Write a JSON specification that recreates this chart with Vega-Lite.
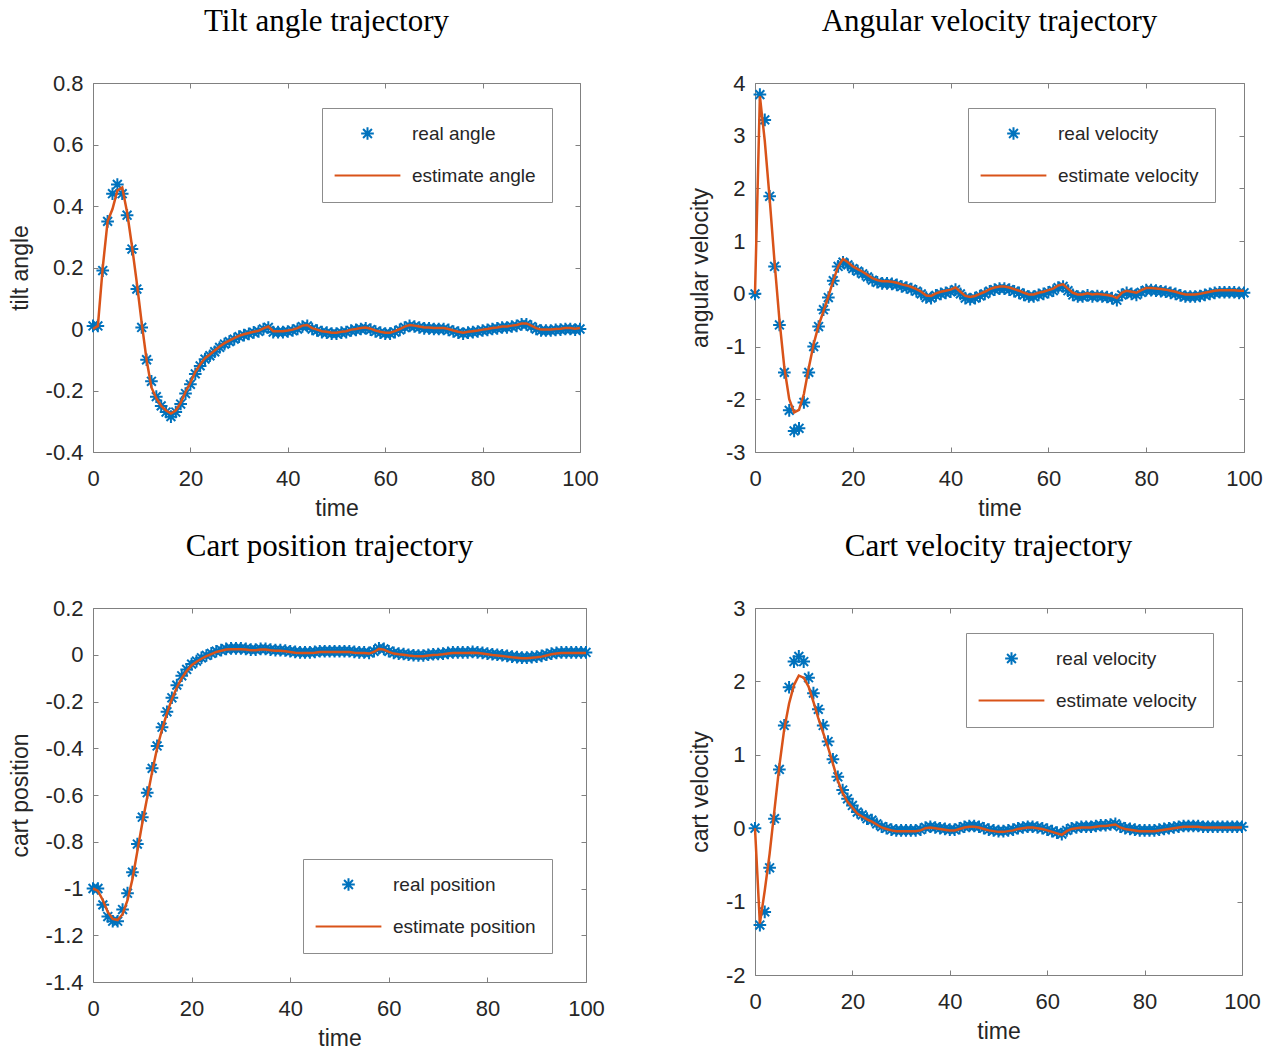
{
"$schema":"https://vega.github.io/schema/vega-lite/v6.json",
"padding":{"left":8,"top":5,"right":0,"bottom":0},
"datasets":{
"tilt":[
{"t":0,"real angle":0.01,"estimate angle":0.0},{"t":1,"real angle":0.01,"estimate angle":0.01},{"t":2,"real angle":0.19,"estimate angle":0.2},{"t":3,"real angle":0.35,"estimate angle":0.35},{"t":4,"real angle":0.44,"estimate angle":0.39},{"t":5,"real angle":0.47,"estimate angle":0.45},{"t":6,"real angle":0.44,"estimate angle":0.46},{"t":7,"real angle":0.37,"estimate angle":0.38},{"t":8,"real angle":0.26,"estimate angle":0.27},{"t":9,"real angle":0.13,"estimate angle":0.15},
{"t":10,"real angle":0.005,"estimate angle":0.02},{"t":11,"real angle":-0.1,"estimate angle":-0.1},{"t":12,"real angle":-0.17,"estimate angle":-0.19},{"t":13,"real angle":-0.22,"estimate angle":-0.225},{"t":14,"real angle":-0.25,"estimate angle":-0.25},{"t":15,"real angle":-0.27,"estimate angle":-0.265},{"t":16,"real angle":-0.285,"estimate angle":-0.275},{"t":17,"real angle":-0.27,"estimate angle":-0.265},{"t":18,"real angle":-0.244,"estimate angle":-0.24},{"t":19,"real angle":-0.21,"estimate angle":-0.205},
{"t":20,"real angle":-0.18,"estimate angle":-0.175},{"t":21,"real angle":-0.146,"estimate angle":-0.14},{"t":22,"real angle":-0.12,"estimate angle":-0.115},{"t":23,"real angle":-0.098,"estimate angle":-0.095},{"t":24,"real angle":-0.087,"estimate angle":-0.083},{"t":25,"real angle":-0.074,"estimate angle":-0.07},{"t":26,"real angle":-0.06,"estimate angle":-0.057},{"t":27,"real angle":-0.049,"estimate angle":-0.046},{"t":28,"real angle":-0.041,"estimate angle":-0.038},{"t":29,"real angle":-0.033,"estimate angle":-0.03},
{"t":30,"real angle":-0.025,"estimate angle":-0.022},{"t":31,"real angle":-0.02,"estimate angle":-0.017},{"t":32,"real angle":-0.016,"estimate angle":-0.013},{"t":33,"real angle":-0.011,"estimate angle":-0.009},{"t":34,"real angle":-0.008,"estimate angle":-0.006},{"t":35,"real angle":0.0,"estimate angle":0.002},{"t":36,"real angle":0.005,"estimate angle":0.008},{"t":37,"real angle":-0.01,"estimate angle":-0.007},{"t":38,"real angle":-0.01,"estimate angle":-0.007},{"t":39,"real angle":-0.01,"estimate angle":-0.007},
{"t":40,"real angle":-0.008,"estimate angle":-0.005},{"t":41,"real angle":-0.005,"estimate angle":-0.002},{"t":42,"real angle":0.0,"estimate angle":0.003},{"t":43,"real angle":0.008,"estimate angle":0.011},{"t":44,"real angle":0.01,"estimate angle":0.013},{"t":45,"real angle":0.0,"estimate angle":0.003},{"t":46,"real angle":-0.005,"estimate angle":-0.002},{"t":47,"real angle":-0.01,"estimate angle":-0.007},{"t":48,"real angle":-0.012,"estimate angle":-0.009},{"t":49,"real angle":-0.015,"estimate angle":-0.012},
{"t":50,"real angle":-0.015,"estimate angle":-0.012},{"t":51,"real angle":-0.012,"estimate angle":-0.009},{"t":52,"real angle":-0.01,"estimate angle":-0.007},{"t":53,"real angle":-0.005,"estimate angle":-0.002},{"t":54,"real angle":-0.003,"estimate angle":0.0},{"t":55,"real angle":0.0,"estimate angle":0.003},{"t":56,"real angle":0.002,"estimate angle":0.005},{"t":57,"real angle":-0.002,"estimate angle":0.001},{"t":58,"real angle":-0.008,"estimate angle":-0.005},{"t":59,"real angle":-0.012,"estimate angle":-0.009},
{"t":60,"real angle":-0.015,"estimate angle":-0.012},{"t":61,"real angle":-0.015,"estimate angle":-0.012},{"t":62,"real angle":-0.01,"estimate angle":-0.007},{"t":63,"real angle":-0.003,"estimate angle":0.0},{"t":64,"real angle":0.005,"estimate angle":0.008},{"t":65,"real angle":0.01,"estimate angle":0.013},{"t":66,"real angle":0.008,"estimate angle":0.011},{"t":67,"real angle":0.005,"estimate angle":0.008},{"t":68,"real angle":0.002,"estimate angle":0.005},{"t":69,"real angle":0.002,"estimate angle":0.005},
{"t":70,"real angle":0.0,"estimate angle":0.003},{"t":71,"real angle":0.0,"estimate angle":0.003},{"t":72,"real angle":0.0,"estimate angle":0.003},{"t":73,"real angle":-0.003,"estimate angle":0.0},{"t":74,"real angle":-0.008,"estimate angle":-0.005},{"t":75,"real angle":-0.012,"estimate angle":-0.009},{"t":76,"real angle":-0.015,"estimate angle":-0.012},{"t":77,"real angle":-0.012,"estimate angle":-0.009},{"t":78,"real angle":-0.01,"estimate angle":-0.007},{"t":79,"real angle":-0.008,"estimate angle":-0.005},
{"t":80,"real angle":-0.005,"estimate angle":-0.002},{"t":81,"real angle":-0.003,"estimate angle":0.0},{"t":82,"real angle":0.0,"estimate angle":0.003},{"t":83,"real angle":0.002,"estimate angle":0.005},{"t":84,"real angle":0.005,"estimate angle":0.008},{"t":85,"real angle":0.005,"estimate angle":0.008},{"t":86,"real angle":0.008,"estimate angle":0.011},{"t":87,"real angle":0.01,"estimate angle":0.013},{"t":88,"real angle":0.015,"estimate angle":0.018},{"t":89,"real angle":0.015,"estimate angle":0.018},
{"t":90,"real angle":0.008,"estimate angle":0.011},{"t":91,"real angle":0.0,"estimate angle":0.003},{"t":92,"real angle":-0.005,"estimate angle":-0.002},{"t":93,"real angle":-0.005,"estimate angle":-0.002},{"t":94,"real angle":-0.005,"estimate angle":-0.002},{"t":95,"real angle":-0.003,"estimate angle":0.0},{"t":96,"real angle":-0.002,"estimate angle":0.001},{"t":97,"real angle":0.0,"estimate angle":0.003},{"t":98,"real angle":0.0,"estimate angle":0.003},{"t":99,"real angle":-0.002,"estimate angle":0.001},{"t":100,"real angle":0.0,"estimate angle":0.003}
],
"angvel":[
{"t":0,"real velocity":0,"estimate velocity":0},{"t":1,"real velocity":3.78,"estimate velocity":3.75},{"t":2,"real velocity":3.3,"estimate velocity":2.9},{"t":3,"real velocity":1.85,"estimate velocity":1.8},{"t":4,"real velocity":0.52,"estimate velocity":0.6},{"t":5,"real velocity":-0.59,"estimate velocity":-0.5},{"t":6,"real velocity":-1.49,"estimate velocity":-1.4},{"t":7,"real velocity":-2.21,"estimate velocity":-2.0},{"t":8,"real velocity":-2.6,"estimate velocity":-2.25},{"t":9,"real velocity":-2.55,"estimate velocity":-2.2},
{"t":10,"real velocity":-2.06,"estimate velocity":-1.9},{"t":11,"real velocity":-1.49,"estimate velocity":-1.4},{"t":12,"real velocity":-1.0,"estimate velocity":-0.95},{"t":13,"real velocity":-0.62,"estimate velocity":-0.6},{"t":14,"real velocity":-0.3,"estimate velocity":-0.33},{"t":15,"real velocity":-0.07,"estimate velocity":-0.05},{"t":16,"real velocity":0.25,"estimate velocity":0.25},{"t":17,"real velocity":0.52,"estimate velocity":0.52},{"t":18,"real velocity":0.6,"estimate velocity":0.66},{"t":19,"real velocity":0.55,"estimate velocity":0.6},
{"t":20,"real velocity":0.48,"estimate velocity":0.52},{"t":21,"real velocity":0.43,"estimate velocity":0.47},{"t":22,"real velocity":0.38,"estimate velocity":0.42},{"t":23,"real velocity":0.32,"estimate velocity":0.36},{"t":24,"real velocity":0.26,"estimate velocity":0.3},{"t":25,"real velocity":0.22,"estimate velocity":0.26},{"t":26,"real velocity":0.2,"estimate velocity":0.24},{"t":27,"real velocity":0.2,"estimate velocity":0.24},{"t":28,"real velocity":0.19,"estimate velocity":0.23},{"t":29,"real velocity":0.17,"estimate velocity":0.21},
{"t":30,"real velocity":0.14,"estimate velocity":0.18},{"t":31,"real velocity":0.12,"estimate velocity":0.16},{"t":32,"real velocity":0.09,"estimate velocity":0.13},{"t":33,"real velocity":0.05,"estimate velocity":0.09},{"t":34,"real velocity":0.0,"estimate velocity":0.04},{"t":35,"real velocity":-0.07,"estimate velocity":-0.03},{"t":36,"real velocity":-0.08,"estimate velocity":-0.04},{"t":37,"real velocity":-0.03,"estimate velocity":0.01},{"t":38,"real velocity":0.0,"estimate velocity":0.04},{"t":39,"real velocity":0.02,"estimate velocity":0.06},
{"t":40,"real velocity":0.04,"estimate velocity":0.08},{"t":41,"real velocity":0.08,"estimate velocity":0.12},{"t":42,"real velocity":0.0,"estimate velocity":0.04},{"t":43,"real velocity":-0.08,"estimate velocity":-0.04},{"t":44,"real velocity":-0.1,"estimate velocity":-0.06},{"t":45,"real velocity":-0.08,"estimate velocity":-0.04},{"t":46,"real velocity":-0.04,"estimate velocity":0.0},{"t":47,"real velocity":0.0,"estimate velocity":0.04},{"t":48,"real velocity":0.05,"estimate velocity":0.09},{"t":49,"real velocity":0.08,"estimate velocity":0.12},
{"t":50,"real velocity":0.1,"estimate velocity":0.14},{"t":51,"real velocity":0.1,"estimate velocity":0.14},{"t":52,"real velocity":0.08,"estimate velocity":0.12},{"t":53,"real velocity":0.05,"estimate velocity":0.09},{"t":54,"real velocity":0.02,"estimate velocity":0.06},{"t":55,"real velocity":-0.02,"estimate velocity":0.02},{"t":56,"real velocity":-0.05,"estimate velocity":-0.01},{"t":57,"real velocity":-0.05,"estimate velocity":-0.01},{"t":58,"real velocity":-0.02,"estimate velocity":0.02},{"t":59,"real velocity":0.0,"estimate velocity":0.04},
{"t":60,"real velocity":0.03,"estimate velocity":0.07},{"t":61,"real velocity":0.06,"estimate velocity":0.1},{"t":62,"real velocity":0.12,"estimate velocity":0.16},{"t":63,"real velocity":0.14,"estimate velocity":0.18},{"t":64,"real velocity":0.06,"estimate velocity":0.1},{"t":65,"real velocity":-0.02,"estimate velocity":0.02},{"t":66,"real velocity":-0.05,"estimate velocity":-0.01},{"t":67,"real velocity":-0.05,"estimate velocity":-0.01},{"t":68,"real velocity":-0.03,"estimate velocity":0.01},{"t":69,"real velocity":-0.05,"estimate velocity":-0.01},
{"t":70,"real velocity":-0.04,"estimate velocity":0.0},{"t":71,"real velocity":-0.05,"estimate velocity":-0.01},{"t":72,"real velocity":-0.06,"estimate velocity":-0.02},{"t":73,"real velocity":-0.08,"estimate velocity":-0.04},{"t":74,"real velocity":-0.12,"estimate velocity":-0.08},{"t":75,"real velocity":-0.02,"estimate velocity":0.02},{"t":76,"real velocity":0.02,"estimate velocity":0.06},{"t":77,"real velocity":0.0,"estimate velocity":0.04},{"t":78,"real velocity":-0.02,"estimate velocity":0.02},{"t":79,"real velocity":0.03,"estimate velocity":0.07},
{"t":80,"real velocity":0.07,"estimate velocity":0.11},{"t":81,"real velocity":0.07,"estimate velocity":0.11},{"t":82,"real velocity":0.06,"estimate velocity":0.1},{"t":83,"real velocity":0.05,"estimate velocity":0.09},{"t":84,"real velocity":0.04,"estimate velocity":0.08},{"t":85,"real velocity":0.02,"estimate velocity":0.06},{"t":86,"real velocity":0.0,"estimate velocity":0.04},{"t":87,"real velocity":-0.03,"estimate velocity":0.01},{"t":88,"real velocity":-0.05,"estimate velocity":-0.01},{"t":89,"real velocity":-0.05,"estimate velocity":-0.01},
{"t":90,"real velocity":-0.05,"estimate velocity":-0.01},{"t":91,"real velocity":-0.04,"estimate velocity":0.0},{"t":92,"real velocity":-0.02,"estimate velocity":0.02},{"t":93,"real velocity":0.0,"estimate velocity":0.04},{"t":94,"real velocity":0.02,"estimate velocity":0.06},{"t":95,"real velocity":0.03,"estimate velocity":0.07},{"t":96,"real velocity":0.03,"estimate velocity":0.07},{"t":97,"real velocity":0.03,"estimate velocity":0.07},{"t":98,"real velocity":0.03,"estimate velocity":0.07},{"t":99,"real velocity":0.02,"estimate velocity":0.06},{"t":100,"real velocity":0.02,"estimate velocity":0.06}
],
"cartpos":[
{"t":0,"real position":-1.0,"estimate position":-1.0},{"t":1,"real position":-1.0,"estimate position":-1.01},{"t":2,"real position":-1.07,"estimate position":-1.05},{"t":3,"real position":-1.12,"estimate position":-1.1},{"t":4,"real position":-1.14,"estimate position":-1.13},{"t":5,"real position":-1.14,"estimate position":-1.135},{"t":6,"real position":-1.09,"estimate position":-1.11},{"t":7,"real position":-1.02,"estimate position":-1.05},{"t":8,"real position":-0.93,"estimate position":-0.96},{"t":9,"real position":-0.81,"estimate position":-0.84},
{"t":10,"real position":-0.695,"estimate position":-0.72},{"t":11,"real position":-0.59,"estimate position":-0.61},{"t":12,"real position":-0.486,"estimate position":-0.5},{"t":13,"real position":-0.39,"estimate position":-0.4},{"t":14,"real position":-0.31,"estimate position":-0.32},{"t":15,"real position":-0.244,"estimate position":-0.25},{"t":16,"real position":-0.184,"estimate position":-0.19},{"t":17,"real position":-0.13,"estimate position":-0.14},{"t":18,"real position":-0.09,"estimate position":-0.1},{"t":19,"real position":-0.063,"estimate position":-0.07},
{"t":20,"real position":-0.04,"estimate position":-0.045},{"t":21,"real position":-0.027,"estimate position":-0.03},{"t":22,"real position":-0.013,"estimate position":-0.017},{"t":23,"real position":-0.003,"estimate position":-0.006},{"t":24,"real position":0.006,"estimate position":0.003},{"t":25,"real position":0.015,"estimate position":0.012},{"t":26,"real position":0.02,"estimate position":0.017},{"t":27,"real position":0.025,"estimate position":0.022},{"t":28,"real position":0.027,"estimate position":0.024},{"t":29,"real position":0.027,"estimate position":0.024},
{"t":30,"real position":0.027,"estimate position":0.024},{"t":31,"real position":0.025,"estimate position":0.022},{"t":32,"real position":0.022,"estimate position":0.019},{"t":33,"real position":0.022,"estimate position":0.019},{"t":34,"real position":0.025,"estimate position":0.022},{"t":35,"real position":0.025,"estimate position":0.022},{"t":36,"real position":0.022,"estimate position":0.019},{"t":37,"real position":0.02,"estimate position":0.017},{"t":38,"real position":0.02,"estimate position":0.017},{"t":39,"real position":0.018,"estimate position":0.015},
{"t":40,"real position":0.015,"estimate position":0.012},{"t":41,"real position":0.012,"estimate position":0.009},{"t":42,"real position":0.01,"estimate position":0.007},{"t":43,"real position":0.01,"estimate position":0.007},{"t":44,"real position":0.01,"estimate position":0.007},{"t":45,"real position":0.012,"estimate position":0.009},{"t":46,"real position":0.015,"estimate position":0.012},{"t":47,"real position":0.015,"estimate position":0.012},{"t":48,"real position":0.015,"estimate position":0.012},{"t":49,"real position":0.015,"estimate position":0.012},
{"t":50,"real position":0.015,"estimate position":0.012},{"t":51,"real position":0.015,"estimate position":0.012},{"t":52,"real position":0.015,"estimate position":0.012},{"t":53,"real position":0.012,"estimate position":0.009},{"t":54,"real position":0.01,"estimate position":0.007},{"t":55,"real position":0.01,"estimate position":0.007},{"t":56,"real position":0.008,"estimate position":0.005},{"t":57,"real position":0.015,"estimate position":0.012},{"t":58,"real position":0.028,"estimate position":0.025},{"t":59,"real position":0.025,"estimate position":0.022},
{"t":60,"real position":0.015,"estimate position":0.012},{"t":61,"real position":0.008,"estimate position":0.005},{"t":62,"real position":0.005,"estimate position":0.002},{"t":63,"real position":0.003,"estimate position":0.0},{"t":64,"real position":0.0,"estimate position":-0.003},{"t":65,"real position":-0.002,"estimate position":-0.005},{"t":66,"real position":-0.003,"estimate position":-0.006},{"t":67,"real position":-0.003,"estimate position":-0.006},{"t":68,"real position":0.0,"estimate position":-0.003},{"t":69,"real position":0.002,"estimate position":-0.001},
{"t":70,"real position":0.003,"estimate position":0.0},{"t":71,"real position":0.005,"estimate position":0.002},{"t":72,"real position":0.008,"estimate position":0.005},{"t":73,"real position":0.01,"estimate position":0.007},{"t":74,"real position":0.01,"estimate position":0.007},{"t":75,"real position":0.01,"estimate position":0.007},{"t":76,"real position":0.01,"estimate position":0.007},{"t":77,"real position":0.012,"estimate position":0.009},{"t":78,"real position":0.01,"estimate position":0.007},{"t":79,"real position":0.008,"estimate position":0.005},
{"t":80,"real position":0.005,"estimate position":0.002},{"t":81,"real position":0.002,"estimate position":-0.001},{"t":82,"real position":0.0,"estimate position":-0.003},{"t":83,"real position":-0.002,"estimate position":-0.005},{"t":84,"real position":-0.005,"estimate position":-0.008},{"t":85,"real position":-0.008,"estimate position":-0.011},{"t":86,"real position":-0.01,"estimate position":-0.013},{"t":87,"real position":-0.012,"estimate position":-0.015},{"t":88,"real position":-0.012,"estimate position":-0.015},{"t":89,"real position":-0.01,"estimate position":-0.013},
{"t":90,"real position":-0.008,"estimate position":-0.011},{"t":91,"real position":-0.005,"estimate position":-0.008},{"t":92,"real position":0.0,"estimate position":-0.003},{"t":93,"real position":0.005,"estimate position":0.002},{"t":94,"real position":0.008,"estimate position":0.005},{"t":95,"real position":0.01,"estimate position":0.007},{"t":96,"real position":0.01,"estimate position":0.007},{"t":97,"real position":0.01,"estimate position":0.007},{"t":98,"real position":0.01,"estimate position":0.007},{"t":99,"real position":0.01,"estimate position":0.007},{"t":100,"real position":0.01,"estimate position":0.007}
],
"cartvel":[
{"t":0,"real velocity":0,"estimate velocity":0},{"t":1,"real velocity":-1.32,"estimate velocity":-1.3},{"t":2,"real velocity":-1.14,"estimate velocity":-0.85},{"t":3,"real velocity":-0.54,"estimate velocity":-0.35},{"t":4,"real velocity":0.13,"estimate velocity":0.25},{"t":5,"real velocity":0.8,"estimate velocity":0.85},{"t":6,"real velocity":1.4,"estimate velocity":1.35},{"t":7,"real velocity":1.92,"estimate velocity":1.7},{"t":8,"real velocity":2.27,"estimate velocity":1.95},{"t":9,"real velocity":2.34,"estimate velocity":2.08},
{"t":10,"real velocity":2.27,"estimate velocity":2.05},{"t":11,"real velocity":2.05,"estimate velocity":1.93},{"t":12,"real velocity":1.84,"estimate velocity":1.72},{"t":13,"real velocity":1.62,"estimate velocity":1.5},{"t":14,"real velocity":1.4,"estimate velocity":1.3},{"t":15,"real velocity":1.18,"estimate velocity":1.1},{"t":16,"real velocity":0.94,"estimate velocity":0.88},{"t":17,"real velocity":0.7,"estimate velocity":0.65},{"t":18,"real velocity":0.52,"estimate velocity":0.48},{"t":19,"real velocity":0.4,"estimate velocity":0.36},
{"t":20,"real velocity":0.31,"estimate velocity":0.28},{"t":21,"real velocity":0.22,"estimate velocity":0.2},{"t":22,"real velocity":0.18,"estimate velocity":0.16},{"t":23,"real velocity":0.13,"estimate velocity":0.12},{"t":24,"real velocity":0.11,"estimate velocity":0.09},{"t":25,"real velocity":0.06,"estimate velocity":0.05},{"t":26,"real velocity":0.02,"estimate velocity":0.01},{"t":27,"real velocity":0.0,"estimate velocity":-0.01},{"t":28,"real velocity":-0.02,"estimate velocity":-0.03},{"t":29,"real velocity":-0.03,"estimate velocity":-0.04},
{"t":30,"real velocity":-0.03,"estimate velocity":-0.04},{"t":31,"real velocity":-0.03,"estimate velocity":-0.04},{"t":32,"real velocity":-0.03,"estimate velocity":-0.04},{"t":33,"real velocity":-0.03,"estimate velocity":-0.04},{"t":34,"real velocity":-0.02,"estimate velocity":-0.03},{"t":35,"real velocity":0.01,"estimate velocity":0.0},{"t":36,"real velocity":0.02,"estimate velocity":0.01},{"t":37,"real velocity":0.01,"estimate velocity":0.0},{"t":38,"real velocity":0.0,"estimate velocity":-0.01},{"t":39,"real velocity":-0.01,"estimate velocity":-0.02},
{"t":40,"real velocity":-0.02,"estimate velocity":-0.03},{"t":41,"real velocity":-0.02,"estimate velocity":-0.03},{"t":42,"real velocity":0.0,"estimate velocity":-0.01},{"t":43,"real velocity":0.02,"estimate velocity":0.01},{"t":44,"real velocity":0.03,"estimate velocity":0.02},{"t":45,"real velocity":0.03,"estimate velocity":0.02},{"t":46,"real velocity":0.02,"estimate velocity":0.01},{"t":47,"real velocity":0.0,"estimate velocity":-0.01},{"t":48,"real velocity":-0.02,"estimate velocity":-0.03},{"t":49,"real velocity":-0.03,"estimate velocity":-0.04},
{"t":50,"real velocity":-0.04,"estimate velocity":-0.05},{"t":51,"real velocity":-0.04,"estimate velocity":-0.05},{"t":52,"real velocity":-0.03,"estimate velocity":-0.04},{"t":53,"real velocity":-0.02,"estimate velocity":-0.03},{"t":54,"real velocity":0.0,"estimate velocity":-0.01},{"t":55,"real velocity":0.01,"estimate velocity":0.0},{"t":56,"real velocity":0.02,"estimate velocity":0.01},{"t":57,"real velocity":0.02,"estimate velocity":0.01},{"t":58,"real velocity":0.01,"estimate velocity":0.0},{"t":59,"real velocity":0.0,"estimate velocity":-0.01},
{"t":60,"real velocity":-0.02,"estimate velocity":-0.03},{"t":61,"real velocity":-0.04,"estimate velocity":-0.05},{"t":62,"real velocity":-0.06,"estimate velocity":-0.07},{"t":63,"real velocity":-0.08,"estimate velocity":-0.09},{"t":64,"real velocity":-0.03,"estimate velocity":-0.04},{"t":65,"real velocity":0.0,"estimate velocity":-0.01},{"t":66,"real velocity":0.01,"estimate velocity":0.0},{"t":67,"real velocity":0.02,"estimate velocity":0.01},{"t":68,"real velocity":0.02,"estimate velocity":0.01},{"t":69,"real velocity":0.02,"estimate velocity":0.01},
{"t":70,"real velocity":0.03,"estimate velocity":0.02},{"t":71,"real velocity":0.04,"estimate velocity":0.03},{"t":72,"real velocity":0.04,"estimate velocity":0.03},{"t":73,"real velocity":0.05,"estimate velocity":0.04},{"t":74,"real velocity":0.06,"estimate velocity":0.05},{"t":75,"real velocity":0.02,"estimate velocity":0.01},{"t":76,"real velocity":0.0,"estimate velocity":-0.01},{"t":77,"real velocity":-0.01,"estimate velocity":-0.02},{"t":78,"real velocity":-0.02,"estimate velocity":-0.03},{"t":79,"real velocity":-0.03,"estimate velocity":-0.04},
{"t":80,"real velocity":-0.03,"estimate velocity":-0.04},{"t":81,"real velocity":-0.03,"estimate velocity":-0.04},{"t":82,"real velocity":-0.03,"estimate velocity":-0.04},{"t":83,"real velocity":-0.02,"estimate velocity":-0.03},{"t":84,"real velocity":-0.01,"estimate velocity":-0.02},{"t":85,"real velocity":0.0,"estimate velocity":-0.01},{"t":86,"real velocity":0.01,"estimate velocity":0.0},{"t":87,"real velocity":0.02,"estimate velocity":0.01},{"t":88,"real velocity":0.03,"estimate velocity":0.02},{"t":89,"real velocity":0.03,"estimate velocity":0.02},
{"t":90,"real velocity":0.03,"estimate velocity":0.02},{"t":91,"real velocity":0.03,"estimate velocity":0.02},{"t":92,"real velocity":0.02,"estimate velocity":0.01},{"t":93,"real velocity":0.02,"estimate velocity":0.01},{"t":94,"real velocity":0.02,"estimate velocity":0.01},{"t":95,"real velocity":0.02,"estimate velocity":0.01},{"t":96,"real velocity":0.02,"estimate velocity":0.01},{"t":97,"real velocity":0.02,"estimate velocity":0.01},{"t":98,"real velocity":0.02,"estimate velocity":0.01},{"t":99,"real velocity":0.02,"estimate velocity":0.01},{"t":100,"real velocity":0.02,"estimate velocity":0.01}
]
},
"vconcat":[
{"hconcat":[
{
 "width":487,"height":369,
 "title":{"text":"Tilt angle trajectory"},
 "data":{"name":"tilt"},
 "transform":[{"fold":["real angle","estimate angle"],"as":["series","value"]}],
 "layer":[
  {"transform":[{"filter":"datum.series === 'real angle'"}],
   "mark":{"type":"point","filled":false,"size":160,"strokeWidth":2,"opacity":1},
   "encoding":{
    "x":{"field":"t","type":"quantitative","scale":{"domain":[0,100],"nice":false,"zero":false},"axis":{"orient":"bottom","title":"time","values":[0,20,40,60,80,100]}},
    "y":{"field":"value","type":"quantitative","scale":{"domain":[-0.4,0.8],"nice":false,"zero":false},"axis":{"orient":"left","title":"tilt angle","values":[-0.4,-0.2,0,0.2,0.4,0.6,0.8],"format":"~g","labelExpr":"replace(datum.label,'−','-')"}},
    "color":{"field":"series","type":"nominal","scale":{"domain":["real angle","estimate angle"],"range":["#0072BD","#D95319"]},"legend":{"title":null,"orient":"none","legendX":229,"legendY":25}},
    "shape":{"field":"series","type":"nominal","scale":{"domain":["real angle","estimate angle"],"range":["M0,-1L0,1M-1,0L1,0M-0.7,-0.7L0.7,0.7M-0.7,0.7L0.7,-0.7","M-5.2,0L5.2,0"]},"legend":{"title":null,"orient":"none","legendX":229,"legendY":25}}
   }},
  {"transform":[{"filter":"datum.series === 'estimate angle'"}],
   "mark":{"type":"line","strokeWidth":2.5},
   "encoding":{
    "x":{"field":"t","type":"quantitative","axis":{"orient":"top","title":null,"labels":false,"values":[0,20,40,60,80,100]}},
    "y":{"field":"value","type":"quantitative","axis":{"orient":"right","title":null,"labels":false,"values":[-0.4,-0.2,0,0.2,0.4,0.6,0.8]}},
    "color":{"field":"series","type":"nominal","legend":{"title":null,"orient":"none","legendX":229,"legendY":25}}
   }}
 ],
 "resolve":{"axis":{"x":"independent","y":"independent"}}
},
{
 "width":489,"height":369,
 "title":{"text":"Angular velocity trajectory"},
 "data":{"name":"angvel"},
 "transform":[{"fold":["real velocity","estimate velocity"],"as":["series","value"]}],
 "layer":[
  {"transform":[{"filter":"datum.series === 'real velocity'"}],
   "mark":{"type":"point","filled":false,"size":160,"strokeWidth":2,"opacity":1},
   "encoding":{
    "x":{"field":"t","type":"quantitative","scale":{"domain":[0,100],"nice":false,"zero":false},"axis":{"orient":"bottom","title":"time","values":[0,20,40,60,80,100]}},
    "y":{"field":"value","type":"quantitative","scale":{"domain":[-3,4],"nice":false,"zero":false},"axis":{"orient":"left","title":"angular velocity","values":[-3,-2,-1,0,1,2,3,4],"format":"~g","labelExpr":"replace(datum.label,'−','-')"}},
    "color":{"field":"series","type":"nominal","scale":{"domain":["real velocity","estimate velocity"],"range":["#0072BD","#D95319"]},"legend":{"title":null,"orient":"none","legendX":213,"legendY":25}},
    "shape":{"field":"series","type":"nominal","scale":{"domain":["real velocity","estimate velocity"],"range":["M0,-1L0,1M-1,0L1,0M-0.7,-0.7L0.7,0.7M-0.7,0.7L0.7,-0.7","M-5.2,0L5.2,0"]},"legend":{"title":null,"orient":"none","legendX":213,"legendY":25}}
   }},
  {"transform":[{"filter":"datum.series === 'estimate velocity'"}],
   "mark":{"type":"line","strokeWidth":2.5},
   "encoding":{
    "x":{"field":"t","type":"quantitative","axis":{"orient":"top","title":null,"labels":false,"values":[0,20,40,60,80,100]}},
    "y":{"field":"value","type":"quantitative","axis":{"orient":"right","title":null,"labels":false,"values":[-3,-2,-1,0,1,2,3,4]}},
    "color":{"field":"series","type":"nominal","legend":{"title":null,"orient":"none","legendX":213,"legendY":25}}
   }}
 ],
 "resolve":{"axis":{"x":"independent","y":"independent"}}
}
],"spacing":89,"resolve":{"scale":{"color":"independent","shape":"independent"},"legend":{"color":"independent","shape":"independent"}}},
{"hconcat":[
{
 "width":493,"height":374,
 "title":{"text":"Cart position trajectory"},
 "data":{"name":"cartpos"},
 "transform":[{"fold":["real position","estimate position"],"as":["series","value"]}],
 "layer":[
  {"transform":[{"filter":"datum.series === 'real position'"}],
   "mark":{"type":"point","filled":false,"size":160,"strokeWidth":2,"opacity":1},
   "encoding":{
    "x":{"field":"t","type":"quantitative","scale":{"domain":[0,100],"nice":false,"zero":false},"axis":{"orient":"bottom","title":"time","values":[0,20,40,60,80,100]}},
    "y":{"field":"value","type":"quantitative","scale":{"domain":[-1.4,0.2],"nice":false,"zero":false},"axis":{"orient":"left","title":"cart position","values":[-1.4,-1.2,-1,-0.8,-0.6,-0.4,-0.2,0,0.2],"format":"~g","labelExpr":"replace(datum.label,'−','-')"}},
    "color":{"field":"series","type":"nominal","scale":{"domain":["real position","estimate position"],"range":["#0072BD","#D95319"]},"legend":{"title":null,"orient":"none","legendX":210,"legendY":251}},
    "shape":{"field":"series","type":"nominal","scale":{"domain":["real position","estimate position"],"range":["M0,-1L0,1M-1,0L1,0M-0.7,-0.7L0.7,0.7M-0.7,0.7L0.7,-0.7","M-5.2,0L5.2,0"]},"legend":{"title":null,"orient":"none","legendX":210,"legendY":251}}
   }},
  {"transform":[{"filter":"datum.series === 'estimate position'"}],
   "mark":{"type":"line","strokeWidth":2.5},
   "encoding":{
    "x":{"field":"t","type":"quantitative","axis":{"orient":"top","title":null,"labels":false,"values":[0,20,40,60,80,100]}},
    "y":{"field":"value","type":"quantitative","axis":{"orient":"right","title":null,"labels":false,"values":[-1.4,-1.2,-1,-0.8,-0.6,-0.4,-0.2,0,0.2]}},
    "color":{"field":"series","type":"nominal","legend":{"title":null,"orient":"none","legendX":210,"legendY":251}}
   }}
 ],
 "resolve":{"axis":{"x":"independent","y":"independent"}}
},
{
 "width":487,"height":367,
 "title":{"text":"Cart velocity trajectory"},
 "data":{"name":"cartvel"},
 "transform":[{"fold":["real velocity","estimate velocity"],"as":["series","value"]}],
 "layer":[
  {"transform":[{"filter":"datum.series === 'real velocity'"}],
   "mark":{"type":"point","filled":false,"size":160,"strokeWidth":2,"opacity":1},
   "encoding":{
    "x":{"field":"t","type":"quantitative","scale":{"domain":[0,100],"nice":false,"zero":false},"axis":{"orient":"bottom","title":"time","values":[0,20,40,60,80,100]}},
    "y":{"field":"value","type":"quantitative","scale":{"domain":[-2,3],"nice":false,"zero":false},"axis":{"orient":"left","title":"cart velocity","values":[-2,-1,0,1,2,3],"format":"~g","labelExpr":"replace(datum.label,'−','-')"}},
    "color":{"field":"series","type":"nominal","scale":{"domain":["real velocity","estimate velocity"],"range":["#0072BD","#D95319"]},"legend":{"title":null,"orient":"none","legendX":211,"legendY":25}},
    "shape":{"field":"series","type":"nominal","scale":{"domain":["real velocity","estimate velocity"],"range":["M0,-1L0,1M-1,0L1,0M-0.7,-0.7L0.7,0.7M-0.7,0.7L0.7,-0.7","M-5.2,0L5.2,0"]},"legend":{"title":null,"orient":"none","legendX":211,"legendY":25}}
   }},
  {"transform":[{"filter":"datum.series === 'estimate velocity'"}],
   "mark":{"type":"line","strokeWidth":2.5},
   "encoding":{
    "x":{"field":"t","type":"quantitative","axis":{"orient":"top","title":null,"labels":false,"values":[0,20,40,60,80,100]}},
    "y":{"field":"value","type":"quantitative","axis":{"orient":"right","title":null,"labels":false,"values":[-2,-1,0,1,2,3]}},
    "color":{"field":"series","type":"nominal","legend":{"title":null,"orient":"none","legendX":211,"legendY":25}}
   }}
 ],
 "resolve":{"axis":{"x":"independent","y":"independent"}}
}
],"spacing":83,"resolve":{"scale":{"color":"independent","shape":"independent"},"legend":{"color":"independent","shape":"independent"}}}
],
"spacing":9,
"resolve":{"scale":{"color":"independent","shape":"independent"},"legend":{"color":"independent","shape":"independent"}},
"config":{
 "font":"Liberation Sans",
 "view":{"stroke":"#808080","strokeWidth":1},
 "axis":{"labelFont":"Liberation Sans","labelFontSize":22,"labelColor":"#262626","titleFont":"Liberation Sans","titleFontSize":23,"titleFontWeight":"normal","titleColor":"#262626","domain":false,"grid":false,"tickColor":"#808080","tickSize":-5,"tickWidth":1,"labelFlush":false,"labelOverlap":false,"labelBound":false},
 "axisX":{"labelPadding":21,"titlePadding":8},
 "axisY":{"labelPadding":15,"titlePadding":13},
 "title":{"font":"Liberation Serif","fontSize":31,"fontWeight":"normal","color":"#000000","offset":34,"frame":"group","anchor":"middle","dx":-10},
 "legend":{"padding":16,"strokeColor":"#8c8c8c","fillColor":"#ffffff","labelFont":"Liberation Sans","labelFontSize":19,"labelColor":"#262626","symbolSize":160,"symbolStrokeWidth":2,"symbolOffset":20,"labelOffset":35,"rowPadding":22,"labelLimit":300}
}
}
